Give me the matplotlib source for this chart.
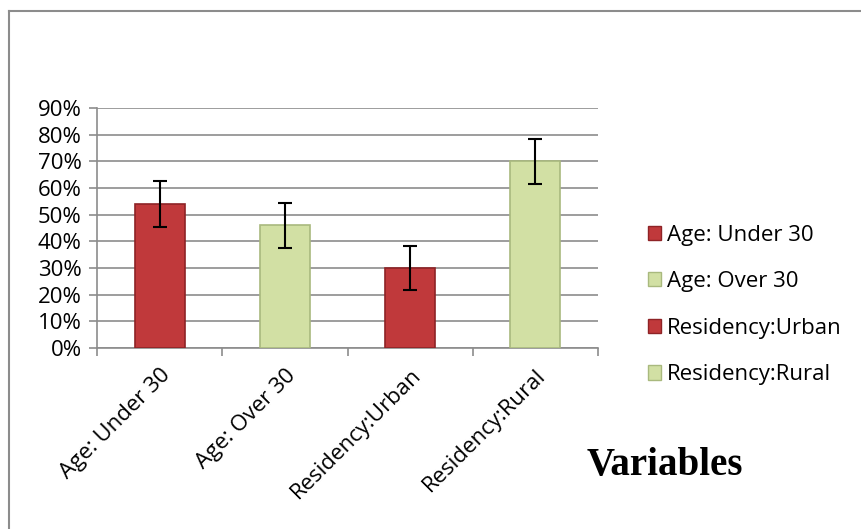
import matplotlib.pyplot as plt
from matplotlib.lines import Line2D
import numpy as np

categories = ["Age: Under 30", "Age: Over 30", "Residency:Urban", "Residency:Rural"]
values = [0.54, 0.46, 0.30, 0.70]
errors = [0.085, 0.085, 0.083, 0.085]
colors = ["#C0393B", "#D2E0A4", "#C0393B", "#D2E0A4"]
edges = ["#8E2326", "#A9B97E", "#8E2326", "#A9B97E"]

plt.rcParams['font.family'] = ['Open Sans', 'DejaVu Sans']

W, H = 861, 529
fig = plt.figure(figsize=(W / 100, H / 100), dpi=100)
ax = fig.add_axes([97 / W, 1 - 348 / H, (598 - 97) / W, (348 - 108) / H])

x = np.arange(len(categories))
bars = ax.bar(x, values, width=0.4, color=colors, edgecolor=edges, linewidth=1.2,
              yerr=errors, capsize=5, error_kw=dict(ecolor="black", elinewidth=1.5, capthick=1.5),
              zorder=3)

ax.set_xlim(-0.5, len(categories) - 0.5)
ax.set_ylim(0, 0.9)
ax.set_yticks(np.arange(0, 0.91, 0.1))
ax.set_yticklabels([f"{int(round(v * 100))}%" for v in np.arange(0, 0.91, 0.1)], fontsize=16)
ax.yaxis.grid(True, color="#8c8c8c", linewidth=1.2, zorder=0)
ax.set_axisbelow(True)

ax.set_xticks(x)
ax.set_xticklabels(categories, rotation=45, ha="right", rotation_mode="anchor", fontsize=16)
ax.tick_params(axis="x", length=0, pad=12)
ax.set_xticks(np.arange(-0.5, len(categories), 1), minor=True)
ax.tick_params(axis="x", which="minor", length=6, color="#8c8c8c", width=1.2)
ax.tick_params(axis="y", length=6, color="#8c8c8c", width=1.2, pad=5)

for s in ["top", "right"]:
    ax.spines[s].set_visible(False)
for s in ["left", "bottom"]:
    ax.spines[s].set_color("#8c8c8c")
    ax.spines[s].set_linewidth(1.2)

# legend
handles = [plt.Rectangle((0, 0), 1, 1, facecolor=c, edgecolor=e) for c, e in zip(colors, edges)]
fig.legend(handles, categories, loc="center left", bbox_to_anchor=(628 / W, 1 - 305 / H),
           frameon=False, fontsize=16, handlelength=0.6, handleheight=0.6,
           handletextpad=0.25, labelspacing=1.15)

fig.text(665 / W, 1 - 465 / H, "Variables", ha="center", va="center",
         fontsize=28, fontweight="bold", family=["Liberation Serif", "DejaVu Serif"])

# chart border (left and top only visible)
fig.add_artist(Line2D([9 / W, 9 / W], [0, 1 - 11 / H], transform=fig.transFigure, color="#8c8c8c", linewidth=1.5))
fig.add_artist(Line2D([9 / W, 1], [1 - 11 / H, 1 - 11 / H], transform=fig.transFigure, color="#8c8c8c", linewidth=1.5))

fig.savefig("out.png", dpi=100)
